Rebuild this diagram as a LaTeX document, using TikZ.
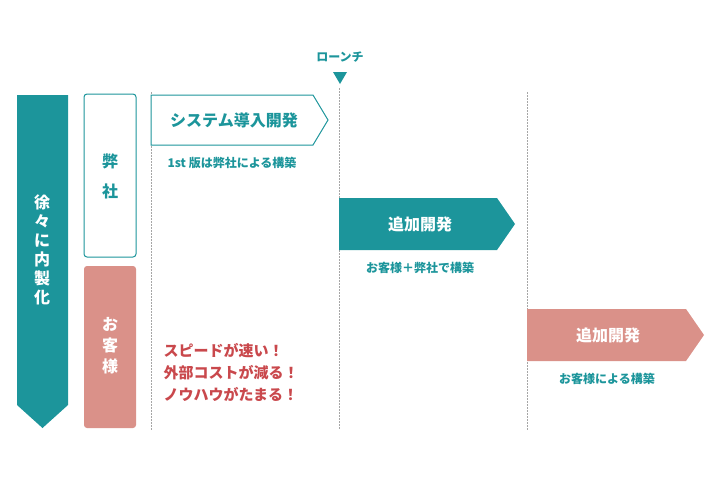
\documentclass[tikz,border=0pt]{standalone}
\usepackage{fontspec}
\setmainfont{Noto Sans CJK JP}
\begin{document}
\begin{tikzpicture}[x=1pt,y=-1pt,
  teal/.style={fill=tealc,draw=none},
  lbl/.style={font=\fontsize{12}{14}\selectfont\bfseries,text=tealc},
  big/.style={font=\fontsize{16}{18}\selectfont\bfseries},
  red/.style={font=\fontsize{15}{22}\selectfont\bfseries,text=redc,align=left,anchor=north west},
  dl/.style={draw=gray!70,dash pattern=on 1.5pt off 1.5pt,line width=0.8pt}]
\definecolor{tealc}{HTML}{1C959B}
\definecolor{pinkc}{HTML}{DA9189}
\definecolor{redc}{HTML}{C9484C}
\useasboundingbox (0,0) rectangle (720,480);
% dashed lines
\coordinate (d1t) at (151,92); \coordinate (d1b) at (151,430);
\coordinate (d2t) at (339,88); \coordinate (d2b) at (339,430);
\coordinate (d3t) at (527,92); \coordinate (d3b) at (527,430);
\draw[dl] (d1t)--(d1b); \draw[dl] (d2t)--(d2b); \draw[dl] (d3t)--(d3b);
% launch
\node[lbl,font=\fontsize{12}{14}\selectfont\bfseries] (launch) at (340,57) {ローンチ};
\fill[tealc] (333,72)--(347,72)--(340,84)--cycle;
% big left arrow
\fill[tealc] (17,95)--(68,95)--(68,405)--(42.5,428)--(17,405)--cycle;
\node[text=white,font=\fontsize{16}{19}\selectfont\bfseries,align=center] (naisei) at (42,250) {徐\\々\\に\\内\\製\\化};
% boxes
\node[draw=tealc,line width=1pt,fill=white,rounded corners=3pt,minimum width=52pt,minimum height=163pt] (heisha) at (110,175.5) {};
\node[text=tealc,font=\fontsize{16}{30}\selectfont\bfseries,align=center] (ht) at (110,176) {弊\\社};
\node[fill=pinkc,rounded corners=3pt,minimum width=52pt,minimum height=162pt] (kyaku) at (110,347) {};
\node[text=white,font=\fontsize{16}{21}\selectfont\bfseries,align=center] (kt) at (110,346) {お\\客\\様};
% arrow shapes
\draw[draw=tealc,fill=white,line width=1pt] (151,95)--(313,95)--(328,120)--(313,145)--(151,145)--cycle;
\node[big,text=tealc] (a1) at (234,120) {システム導入開発};
\node[lbl] (b1) at (232,163) {1st 版は弊社による構築};
\fill[tealc] (339,198)--(497,198)--(515,224)--(497,250)--(339,250)--cycle;
\node[big,text=white] (a2) at (420,224) {追加開発};
\node[lbl] (b2) at (420,268) {お客様＋弊社で構築};
\fill[pinkc] (527,309)--(686,309)--(704,335)--(686,361)--(527,361)--cycle;
\node[big,text=white] (a3) at (608,335) {追加開発};
\node[lbl] (b3) at (607,379) {お客様による構築};
% red text
\node[red] (r) at (160,340) {スピードが速い！\\外部コストが減る！\\ノウハウがたまる！};
\end{tikzpicture}
\end{document}
